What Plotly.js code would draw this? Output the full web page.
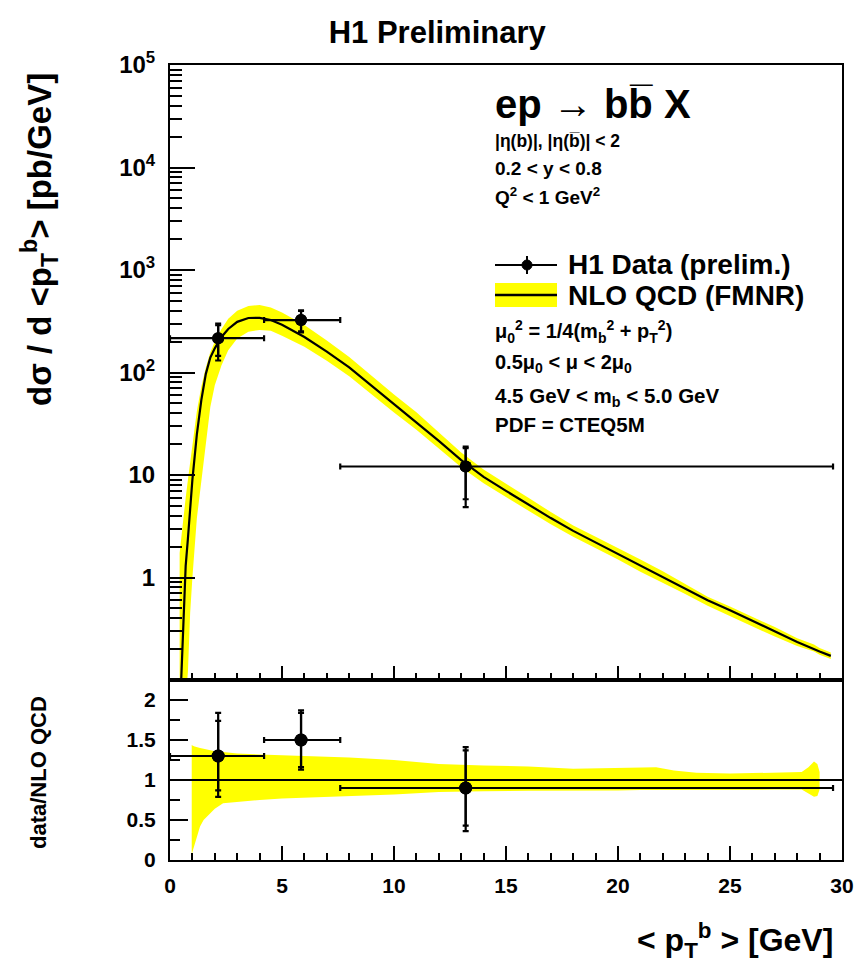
<!DOCTYPE html>
<html>
<head>
<meta charset="utf-8">
<script src="https://cdn.plot.ly/plotly-3.0.1.min.js"></script>
<style>html,body{margin:0;padding:0;background:#fff;}#plot{width:859px;height:973px;}</style>
</head>
<body>
<div id="plot"></div>
<script>
// ---- NLO QCD central prediction (top panel) ----
const nloX = [0.5, 0.6, 0.7, 0.8, 0.9, 1.0, 1.2, 1.4, 1.6, 1.8, 2.0, 2.3, 2.6, 3.0, 3.5, 4.0, 4.5, 5.0, 6, 7, 8, 9, 10, 11, 12, 13, 14, 15, 16, 17, 18, 19, 20, 21, 22, 23, 24, 25, 26, 27, 28, 29, 29.5];
const nloY = [0.1, 0.45, 1.3, 2.4, 5.2, 9.0, 25, 54, 97, 140, 172, 222, 266, 312, 340, 341, 325, 292, 222, 160, 112, 74, 49, 33, 21.5, 14.0, 9.6, 7.0, 5.15, 3.8, 2.85, 2.2, 1.7, 1.3, 1.0, 0.78, 0.6, 0.48, 0.38, 0.30, 0.235, 0.19, 0.172];
// ---- NLO QCD uncertainty band (top panel) ----
const bandX  = [0.43, 0.5, 0.6, 0.7, 0.8, 0.9, 1.0, 1.2, 1.4, 1.6, 1.8, 2.0, 2.3, 2.6, 3.0, 3.5, 4.0, 4.5, 5.0, 6, 7, 8, 9, 10, 11, 12, 13, 14, 15, 16, 17, 18, 19, 20, 21, 22, 23, 24, 25, 26, 27, 28, 28.75, 29, 29.5];
const bandHi = [1.73, 2.5, 3.8, 6.0, 9.0, 13.5, 21, 42, 73, 112, 158, 200, 265, 335, 400, 445, 455, 430, 385, 290, 205, 142, 93, 61, 41, 26, 16.6, 11.3, 8.3, 6.0, 4.35, 3.22, 2.5, 1.95, 1.5, 1.15, 0.86, 0.65, 0.52, 0.415, 0.328, 0.255, 0.222, 0.205, 0.185];
const bandLo = [0.01, 0.02, 0.04, 0.07, 0.12, 0.45, 1.0, 3.8, 8.5, 20, 46, 75, 118, 165, 215, 250, 260, 255, 228, 178, 130, 92, 61, 40.7, 27.7, 18.3, 11.9, 8.3, 6.1, 4.5, 3.3, 2.5, 1.93, 1.5, 1.14, 0.88, 0.69, 0.53, 0.425, 0.335, 0.265, 0.215, 0.19, 0.176, 0.16];
// ---- ratio panel band (NLO uncertainty / NLO central) ----
const ratioBandX  = [0.97, 1.0, 1.1, 1.2, 1.34, 1.5, 1.78, 2.0, 2.37, 3.0, 4, 5, 6, 7, 8, 10, 12, 14, 16, 18, 20, 21, 21.7, 22.5, 23.5, 25, 27, 28.2, 28.5, 28.75, 28.9, 29.0];
const ratioBandHi = [1.44, 1.43, 1.42, 1.41, 1.40, 1.39, 1.37, 1.36, 1.35, 1.33, 1.32, 1.31, 1.30, 1.29, 1.28, 1.25, 1.20, 1.18, 1.17, 1.14, 1.15, 1.16, 1.16, 1.12, 1.09, 1.08, 1.09, 1.10, 1.16, 1.23, 1.20, 1.10];
const ratioBandLo = [0.05, 0.10, 0.20, 0.30, 0.42, 0.50, 0.58, 0.64, 0.71, 0.73, 0.75, 0.77, 0.78, 0.79, 0.80, 0.82, 0.85, 0.86, 0.865, 0.87, 0.87, 0.875, 0.875, 0.88, 0.88, 0.88, 0.88, 0.88, 0.83, 0.79, 0.80, 0.88];
// ---- H1 data ----
const dataX      = [2.15, 5.85, 13.2];
const dataXlo    = [0, 4.2, 7.6];
const dataXhi    = [4.2, 7.6, 29.6];
const dataY      = [216, 325, 12.1];
const dataTotLo  = [131, 246, 4.85];
const dataTotHi  = [300, 404, 18.9];
const dataStatLo = [145, 252, 5.8];
const dataStatHi = [289, 398, 18.3];
// ---- data / NLO QCD ----
const ratioY      = [1.30, 1.50, 0.90];
const ratioTotLo  = [0.79, 1.13, 0.36];
const ratioTotHi  = [1.84, 1.87, 1.41];
const ratioStatLo = [0.87, 1.16, 0.43];
const ratioStatHi = [1.74, 1.84, 1.37];
// ---- tick labels ----
const yTickVals = [0.1, 1, 10, 100, 1000, 10000, 100000];
const yTickText = ['', '1', '10', '10<sup>2</sup>', '10<sup>3</sup>', '10<sup>4</sup>', '10<sup>5</sup>'];
const rTickVals = [0, 0.5, 1, 1.5, 2];
const rTickText = ['0', '0.5', '1', '1.5', '2'];
const xTickVals = [0, 5, 10, 15, 20, 25, 30];
const xTickText = ['0', '5', '10', '15', '20', '25', '30'];

const FONT = 'Liberation Sans, Arial, Helvetica, sans-serif';
const YEL = '#ffff00';

const L = 170, R = 842, T = 65, B = 860;
const px = x => (x - L) / (R - L);
const py = y => (B - y) / (B - T);

const minorLog = [];
for (let e = -1; e < 5; e++) for (let m = 2; m <= 9; m++) minorLog.push(m * Math.pow(10, e));
const minorLin = [];
for (let v = 0; v <= 30; v += 1) if (v % 5 !== 0) minorLin.push(v);
const minorRat = [0.25, 0.75, 1.25, 1.75];

const sub = (a, b) => a.map((v, i) => v - b[i]);

const traces = [];
traces.push({
  x: bandX.concat(bandX.slice().reverse()),
  y: bandHi.concat(bandLo.slice().reverse()),
  xaxis: 'x', yaxis: 'y', mode: 'lines', fill: 'toself', fillcolor: YEL,
  line: {width: 0, color: YEL}, hoverinfo: 'skip', showlegend: false
});
traces.push({x: nloX, y: nloY, xaxis: 'x', yaxis: 'y', mode: 'lines',
  line: {color: '#000', width: 2.2}, showlegend: false});
traces.push({x: dataX, y: dataY, xaxis: 'x', yaxis: 'y', mode: 'markers',
  marker: {color: '#000', size: 12},
  error_y: {type: 'data', symmetric: false, array: sub(dataTotHi, dataY), arrayminus: sub(dataY, dataTotLo), color: '#000', thickness: 2.2, width: 3},
  error_x: {type: 'data', symmetric: false, array: sub(dataXhi, dataX), arrayminus: sub(dataX, dataXlo), color: '#000', thickness: 2.2, width: 3},
  showlegend: false});
traces.push({x: dataX, y: dataY, xaxis: 'x', yaxis: 'y', mode: 'markers',
  marker: {color: '#000', size: 12},
  error_y: {type: 'data', symmetric: false, array: sub(dataStatHi, dataY), arrayminus: sub(dataY, dataStatLo), color: '#000', thickness: 2.2, width: 3},
  showlegend: false});
traces.push({
  x: ratioBandX.concat(ratioBandX.slice().reverse()),
  y: ratioBandHi.concat(ratioBandLo.slice().reverse()),
  xaxis: 'x2', yaxis: 'y2', mode: 'lines', fill: 'toself', fillcolor: YEL,
  line: {width: 0, color: YEL}, hoverinfo: 'skip', showlegend: false
});
traces.push({x: dataX, y: ratioY, xaxis: 'x2', yaxis: 'y2', mode: 'markers',
  marker: {color: '#000', size: 13},
  error_y: {type: 'data', symmetric: false, array: sub(ratioTotHi, ratioY), arrayminus: sub(ratioY, ratioTotLo), color: '#000', thickness: 2.2, width: 3},
  error_x: {type: 'data', symmetric: false, array: sub(dataXhi, dataX), arrayminus: sub(dataX, dataXlo), color: '#000', thickness: 2.2, width: 3},
  showlegend: false});
traces.push({x: dataX, y: ratioY, xaxis: 'x2', yaxis: 'y2', mode: 'markers',
  marker: {color: '#000', size: 13},
  error_y: {type: 'data', symmetric: false, array: sub(ratioStatHi, ratioY), arrayminus: sub(ratioY, ratioStatLo), color: '#000', thickness: 2.2, width: 3},
  showlegend: false});
// invisible carriers for the minor-tick overlay axes
traces.push({x: [dataX[0]], y: [dataY[0]], xaxis: 'x3', yaxis: 'y3', mode: 'markers', marker: {opacity: 0}, hoverinfo: 'skip', showlegend: false});
traces.push({x: [dataX[0]], y: [ratioY[0]], xaxis: 'x4', yaxis: 'y4', mode: 'markers', marker: {opacity: 0}, hoverinfo: 'skip', showlegend: false});

const axisCommon = {showline: true, linecolor: '#000', linewidth: 2, mirror: true, showgrid: false, zeroline: false,
  ticks: 'inside', tickcolor: '#000', tickwidth: 2};
const minorAxis = {showline: false, showgrid: false, zeroline: false, ticks: 'inside', tickcolor: '#000', tickwidth: 2,
  showticklabels: false, tickmode: 'array'};

const split = 180 / 795;

const layout = {
  width: 859, height: 973,
  margin: {l: 170, r: 17, t: 65, b: 113},
  paper_bgcolor: '#fff', plot_bgcolor: '#fff',
  showlegend: false,
  font: {family: FONT, color: '#000'},
  title: {text: '<b>H1 Preliminary</b>', font: {family: FONT, size: 31, color: '#000'},
    x: 0.509, xanchor: 'center', xref: 'container', y: 1 - 32 / 973, yanchor: 'middle', yref: 'container'},
  xaxis: Object.assign({}, axisCommon, {anchor: 'y', range: [0, 30], tickmode: 'array', tickvals: xTickVals, ticktext: xTickText,
    showticklabels: false, ticklen: 14}),
  yaxis: Object.assign({}, axisCommon, {type: 'log', range: [-1, 5], domain: [split, 1], anchor: 'x',
    tickmode: 'array', tickvals: yTickVals, ticktext: yTickText, ticklen: 25,
    tickfont: {family: FONT, size: 24, weight: 'bold'}, ticklabelstandoff: 8}),
  xaxis3: Object.assign({}, minorAxis, {anchor: 'y', overlaying: 'x', range: [0, 30], tickvals: minorLin, ticklen: 7}),
  yaxis3: Object.assign({}, minorAxis, {type: 'log', range: [-1, 5], anchor: 'x', overlaying: 'y', side: 'left', tickvals: minorLog, ticklen: 12}),
  xaxis2: Object.assign({}, axisCommon, {anchor: 'y2', range: [0, 30], tickmode: 'array', tickvals: xTickVals, ticktext: xTickText,
    ticklen: 14, tickfont: {family: FONT, size: 21, weight: 'bold'}, ticklabelstandoff: 6}),
  yaxis2: Object.assign({}, axisCommon, {range: [0, 2.25], domain: [0, split], anchor: 'x2',
    tickmode: 'array', tickvals: rTickVals, ticktext: rTickText, ticklen: 18,
    tickfont: {family: FONT, size: 21, weight: 'bold'}, ticklabelstandoff: 8}),
  xaxis4: Object.assign({}, minorAxis, {anchor: 'y2', overlaying: 'x2', range: [0, 30], tickvals: minorLin, ticklen: 7}),
  yaxis4: Object.assign({}, minorAxis, {range: [0, 2.25], anchor: 'x2', overlaying: 'y2', side: 'left', tickvals: minorRat, ticklen: 10}),
  shapes: [
    {type: 'line', xref: 'x2', yref: 'y2', x0: 0, x1: 30, y0: 1, y1: 1, line: {color: '#000', width: 2}},
    {type: 'line', xref: 'paper', yref: 'paper', x0: px(495), x1: px(557), y0: py(265), y1: py(265), line: {color: '#000', width: 2}},
    {type: 'circle', xref: 'paper', yref: 'paper', x0: px(522), x1: px(532), y0: py(260), y1: py(270), fillcolor: '#000', line: {color: '#000', width: 1}},
    {type: 'line', xref: 'paper', yref: 'paper', x0: px(527), x1: px(527), y0: py(256), y1: py(274), line: {color: '#000', width: 2}},
    {type: 'rect', xref: 'paper', yref: 'paper', x0: px(495), x1: px(557), y0: py(307), y1: py(283), fillcolor: YEL, line: {width: 0}},
    {type: 'line', xref: 'paper', yref: 'paper', x0: px(495), x1: px(557), y0: py(295), y1: py(295), line: {color: '#000', width: 2.5}}
  ],
  annotations: []
};

function ann(text, x, y, size, opts) {
  layout.annotations.push(Object.assign({text: text, xref: 'paper', yref: 'paper', x: px(x), y: py(y),
    xanchor: 'left', yanchor: 'middle', showarrow: false, font: {family: FONT, size: size, color: '#000'}}, opts || {}));
}
ann('<b>ep \u2192 bb\u0305 X</b>', 493, 104, 40);
ann('<b>|\u03b7(b)|, |\u03b7(b\u0305)| &lt; 2</b>', 493, 141, 17.5);
ann('<b>0.2 &lt; y &lt; 0.8</b>', 493, 169, 19);
ann('<b>Q<sup>2</sup> &lt; 1 GeV<sup>2</sup></b>', 493, 196, 19);
ann('<b>H1 Data (prelim.)</b>', 566, 264, 28);
ann('<b>NLO QCD (FMNR)</b>', 566, 295, 28);
ann('<b>\u03bc<sub>0</sub><sup>2</sup> = 1/4(m<sub>b</sub><sup>2</sup> + p<sub>T</sub><sup>2</sup>)</b>', 493, 331, 20);
ann('<b>0.5\u03bc<sub>0</sub> &lt; \u03bc &lt; 2\u03bc<sub>0</sub></b>', 493, 363, 20);
ann('<b>4.5 GeV &lt; m<sub>b</sub> &lt; 5.0 GeV</b>', 493, 397, 20.5);
ann('<b>PDF = CTEQ5M</b>', 493, 424, 20.5);
ann('<b>d\u03c3 / d &lt;p<sub>T</sub><sup>b</sup>&gt; [pb/GeV]</b>', 40, 240, 33, {xanchor: 'center', textangle: -90});
ann('<b>data/NLO QCD</b>', 38, 773, 22, {xanchor: 'center', textangle: -90});
ann('<b>&lt; p<sub>T</sub><sup>b</sup> &gt; [GeV]</b>', 835, 940, 32, {xanchor: 'right'});

Plotly.newPlot('plot', traces, layout, {displayModeBar: false, staticPlot: true});
</script>
</body>
</html>
